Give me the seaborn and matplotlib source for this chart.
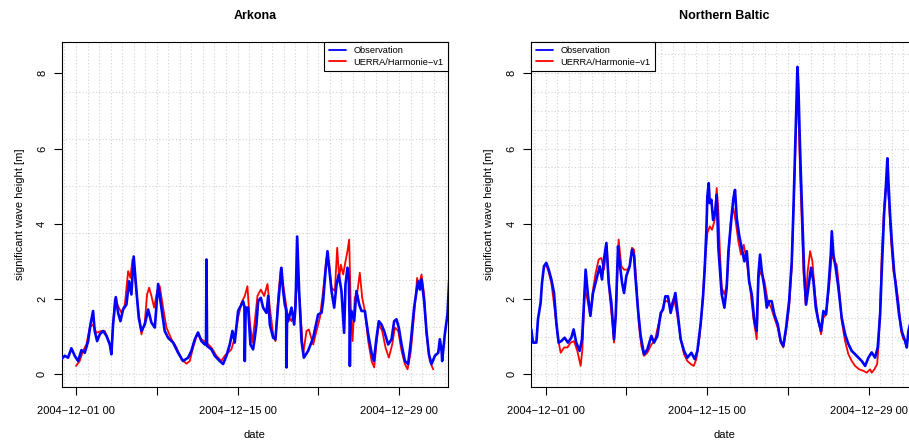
import matplotlib
matplotlib.use("Agg")
import matplotlib.pyplot as plt
from matplotlib.lines import Line2D
import numpy as np
import pandas as pd
import seaborn as sns

# ---------------- data (days since 2004-12-01 00, significant wave height [m]) -------------
START = pd.Timestamp("2004-12-01 00:00")

arkona_obs_day = [-1.3, -1.27, -0.98, -0.69, -0.4, -0.11, 0.18, 0.47, 0.76, 1.05, 1.25, 1.48, 1.62, 1.83,
                  2.06, 2.35, 2.64, 2.93, 3.07, 3.21, 3.45, 3.65, 3.85, 4.08, 4.37, 4.6, 4.8, 5.0, 5.24,
                  5.44, 5.67, 5.96, 6.25, 6.54, 6.83, 7.12, 7.4, 7.69, 7.98, 8.42, 8.85, 9.28, 9.72, 10.0,
                  10.3, 10.58, 10.87, 11.16, 11.27, 11.31, 11.36, 11.74, 12.03, 12.46, 12.75, 13.04, 13.33,
                  13.56, 13.76, 14.05, 14.34, 14.48, 14.6, 14.63, 14.71, 14.92, 15.12, 15.35, 15.5, 15.64,
                  15.79, 16.02, 16.22, 16.51, 16.66, 16.8, 17.09, 17.29, 17.52, 17.81, 17.96, 18.1, 18.22,
                  18.25, 18.3, 18.39, 18.68, 18.91, 19.03, 19.17, 19.34, 19.55, 19.75, 20.12, 20.56, 20.99,
                  21.28, 21.42, 21.63, 21.8, 21.92, 22.15, 22.38, 22.58, 22.78, 23.01, 23.24, 23.36, 23.53,
                  23.65, 23.71, 23.74, 23.79, 23.88, 24.11, 24.31, 24.55, 24.75, 25.04, 25.33, 25.62, 25.82,
                  26.05, 26.25, 26.48, 26.71, 27.06, 27.35, 27.58, 27.78, 27.98, 28.22, 28.51, 28.79, 29.03,
                  29.31, 29.52, 29.66, 29.81, 29.95, 30.18, 30.38, 30.59, 30.82, 31.11, 31.4, 31.54, 31.7,
                  31.74, 31.97, 32.2, 32.35]
arkona_obs_hs = [0.42, 0.40, 0.49, 0.44, 0.69, 0.49, 0.35, 0.64, 0.57, 0.88, 1.32, 1.68, 1.15, 0.88,
                 1.06, 1.15, 1.02, 0.79, 0.53, 1.32, 2.05, 1.63, 1.41, 1.72, 1.85, 2.47, 2.12, 3.13, 2.21,
                 1.5, 1.15, 1.32, 1.72, 1.37, 1.24, 2.40, 1.77, 1.15, 0.97, 0.84, 0.57, 0.35, 0.44, 0.62,
                 0.93, 1.11, 0.88, 0.79, 0.80, 3.05, 0.75, 0.66, 0.49, 0.35, 0.27, 0.49, 0.79,
                 1.15, 0.84, 1.68, 1.85, 1.94, 1.80, 0.35, 1.77, 1.77, 0.79, 0.66, 0.97, 1.32,
                 1.94, 2.03, 1.77, 1.63, 2.08, 1.32, 0.97, 0.93, 1.85, 2.83, 2.21, 1.85, 1.70,
                 0.18, 1.60, 1.41, 1.77, 1.32, 1.81, 3.66, 2.21, 0.88, 0.44, 0.62, 0.97, 1.59,
                 1.63, 1.94, 2.74, 3.27, 2.91, 2.21, 1.77, 2.38, 2.65, 2.21, 1.10, 2.38, 2.83,
                 2.56, 1.50, 0.22, 1.50, 1.68, 1.41, 2.21, 1.85, 1.68, 1.68, 1.06, 0.57, 0.35,
                 0.97, 1.41, 1.32, 1.15, 0.79, 0.93, 1.41, 1.46, 1.24, 0.79, 0.35, 0.27, 0.88,
                 1.77, 2.21, 2.47, 2.25, 2.52, 1.94, 1.15, 0.53, 0.27, 0.49, 0.57, 0.93, 0.60,
                 0.35, 1.06, 1.59, 2.50]

arkona_mod_day = [0.0, 0.32, 0.61, 0.9, 1.19, 1.48, 1.77, 2.2, 2.49, 2.78, 3.07, 3.36, 3.65, 3.94, 4.23,
                  4.52, 4.72, 4.89, 5.09, 5.38, 5.67, 5.96, 6.16, 6.34, 6.54, 6.77, 7.03, 7.26, 7.55, 7.84,
                  8.27, 8.71, 9.14, 9.58, 9.86, 10.15, 10.5, 10.87, 11.31, 11.74, 12.17, 12.6, 12.89, 13.18,
                  13.47, 13.76, 14.05, 14.34, 14.63, 14.86, 15.06, 15.29, 15.5, 15.73, 16.02, 16.31, 16.6,
                  16.8, 17.09, 17.29, 17.52, 17.75, 18.04, 18.33, 18.68, 18.97, 19.12, 19.4, 19.69, 19.98,
                  20.18, 20.56, 20.85, 21.14, 21.42, 21.71, 21.92, 22.15, 22.44, 22.64, 22.81, 22.96, 23.16,
                  23.36, 23.53, 23.68, 23.82, 23.97, 24.17, 24.4, 24.6, 24.81, 25.04, 25.33, 25.62, 25.85,
                  26.05, 26.25, 26.54, 26.83, 27.12, 27.41, 27.64, 27.93, 28.22, 28.51, 28.74, 29.03, 29.31,
                  29.57, 29.72, 29.95, 30.18, 30.38, 30.67, 30.96]
arkona_mod_hs = [0.22, 0.35, 0.62, 0.79, 1.24, 1.32, 1.10, 1.15, 1.15, 0.93, 0.62, 1.99, 1.81, 1.63, 1.85,
                 2.74, 2.56, 3.05, 2.65, 1.77, 1.06, 1.37, 2.12, 2.30, 2.08, 1.77, 2.21, 2.34, 1.77, 1.24,
                 0.93, 0.71, 0.40, 0.28, 0.35, 0.71, 1.06, 0.93, 0.84, 0.71, 0.49, 0.35, 0.49, 0.57,
                 0.66, 0.97, 1.50, 1.90, 2.08, 2.34, 1.41, 0.84, 1.41, 2.08, 2.25, 2.08, 2.40,
                 1.77, 1.06, 0.88, 2.03, 2.83, 2.21, 1.59, 1.41, 1.68, 2.60, 1.94, 0.53, 1.15,
                 1.19, 0.79, 1.15, 1.50, 2.21, 3.09, 3.00, 2.30, 2.21, 3.36, 2.56, 2.91, 2.65,
                 3.00, 3.27, 3.58, 1.77, 0.88, 2.03, 2.21, 2.70, 2.03, 1.68, 0.88, 0.35, 0.18,
                 0.84, 1.32, 1.15, 0.71, 0.44, 0.79, 1.24, 1.15, 0.62, 0.27, 0.13, 0.62, 1.59,
                 2.56, 2.34, 2.65, 2.12, 1.06, 0.35, 0.13]

baltic_obs_day = [-1.3, -1.25, -1.1, -0.81, -0.67, -0.44, -0.32, -0.15, 0.05, 0.26, 0.49, 0.72, 0.92, 1.12,
                  1.35, 1.64, 1.93, 2.22, 2.42, 2.65, 2.94, 3.15, 3.32, 3.46, 3.67, 3.87, 4.1, 4.39, 4.68,
                  4.88, 5.05, 5.26, 5.46, 5.69, 5.92, 6.07, 6.27, 6.41, 6.62, 6.79, 6.99, 7.28, 7.48, 7.66,
                  7.77, 8.0, 8.23, 8.52, 8.81, 9.16, 9.39, 9.68, 9.97, 10.17, 10.37, 10.6, 10.83, 11.04,
                  11.24, 11.47, 11.7, 11.99, 12.28, 12.63, 12.92, 13.15, 13.44, 13.64, 13.78, 13.93, 14.01,
                  14.13, 14.22, 14.36, 14.51, 14.71, 14.82, 14.97, 15.11, 15.26, 15.49, 15.69, 15.84, 16.07,
                  16.27, 16.41, 16.56, 16.76, 16.99, 17.22, 17.43, 17.63, 17.86, 18.09, 18.29, 18.44, 18.58,
                  18.73, 18.96, 19.16, 19.36, 19.59, 19.82, 20.11, 20.37, 20.6, 20.84, 21.1, 21.33, 21.47,
                  21.62, 21.73, 21.82, 21.91, 22.0, 22.11, 22.26, 22.4, 22.57, 22.77, 23.0, 23.21, 23.41,
                  23.64, 23.87, 24.07, 24.3, 24.51, 24.71, 24.8, 24.94, 25.14, 25.37, 25.66, 25.95, 26.24,
                  26.53, 26.82, 27.11, 27.4, 27.69, 27.97, 28.26, 28.55, 28.78, 28.99, 29.13, 29.33, 29.48,
                  29.62, 29.71, 29.85, 30.0, 30.2, 30.43, 30.63, 30.86, 31.15, 31.3, 31.44, 31.6]
baltic_obs_hs = [1.20, 1.19, 0.84, 0.84, 1.46, 1.90, 2.43, 2.87, 2.96, 2.78, 2.52, 2.16, 1.37, 0.84,
                 0.88, 0.97, 0.84, 0.97, 1.19, 0.84, 0.62, 0.93, 1.90, 2.78, 2.07, 1.55, 2.16, 2.52, 2.87,
                 2.52, 3.05, 3.49, 2.43, 1.90, 0.93, 1.55, 3.40, 2.96, 2.43, 2.16, 2.61, 2.87, 3.31, 3.14,
                 2.61, 1.72, 1.02, 0.53, 0.66, 1.02, 0.84, 1.02, 1.63, 1.72, 2.07, 2.07, 1.63, 1.90,
                 2.16, 1.55, 0.93, 0.62, 0.44, 0.57, 0.40, 0.62, 1.37, 2.07, 2.78, 3.84, 4.72,
                 5.08, 4.55, 4.64, 4.10, 4.37, 4.77, 3.36, 2.74, 2.12, 1.77, 2.30, 3.27, 4.06,
                 4.68, 4.90, 4.15, 3.71, 3.36, 3.00, 3.27, 2.47, 2.12, 1.41, 1.15, 2.65, 3.18,
                 2.74, 2.30, 1.77, 1.94, 1.94, 1.59, 1.33, 0.88, 0.75, 1.24, 1.94, 3.00, 4.33,
                 5.92, 7.15, 8.17, 7.59, 6.53, 5.39, 4.06, 2.74, 1.85, 2.30, 2.83, 2.47, 1.77,
                 1.41, 1.15, 1.68, 1.59, 2.30, 3.18, 3.80, 3.18, 2.83, 2.30, 1.50, 1.06, 0.80,
                 0.62, 0.53, 0.44, 0.35, 0.22, 0.44, 0.58, 0.44, 0.71, 1.59, 2.74, 4.24, 4.95,
                 5.74, 5.12, 4.24, 3.53, 2.74, 2.12, 1.59, 1.15, 0.88, 0.71, 1.15, 1.35]

baltic_mod_day = [0.0, 0.2, 0.49, 0.78, 1.07, 1.3, 1.59, 1.88, 2.16, 2.45, 2.74, 3.03, 3.18, 3.38, 3.61, 3.87,
                  4.1, 4.33, 4.59, 4.82, 5.05, 5.29, 5.55, 5.75, 5.92, 6.12, 6.32, 6.56, 6.79, 7.08, 7.28,
                  7.48, 7.66, 7.86, 8.06, 8.29, 8.52, 8.81, 9.16, 9.45, 9.74, 10.03, 10.31, 10.6, 10.83,
                  11.12, 11.41, 11.7, 11.99, 12.28, 12.57, 12.83, 13.06, 13.35, 13.55, 13.78, 14.01, 14.22,
                  14.42, 14.65, 14.82, 14.97, 15.11, 15.26, 15.49, 15.69, 15.89, 16.07, 16.27, 16.47, 16.7,
                  16.93, 17.17, 17.43, 17.72, 18.0, 18.29, 18.44, 18.67, 18.96, 19.25, 19.54, 19.82, 20.11,
                  20.37, 20.6, 20.84, 21.1, 21.33, 21.5, 21.67, 21.79, 21.91, 22.05, 22.2, 22.34, 22.54,
                  22.71, 22.92, 23.12, 23.35, 23.64, 23.87, 24.07, 24.3, 24.56, 24.8, 25.03, 25.23, 25.43,
                  25.66, 25.95, 26.24, 26.53, 26.82, 27.17, 27.54, 27.83, 28.12, 28.26, 28.49, 28.73, 28.84,
                  28.99, 29.13, 29.33, 29.48, 29.62, 29.77, 29.94, 30.14, 30.34, 30.57, 30.8, 31.0]
baltic_mod_hs = [2.90, 2.78, 2.43, 1.72, 0.93, 0.57, 0.71, 0.71, 0.84, 0.88, 0.62, 0.22, 0.66, 2.25, 1.99, 1.55,
                 2.25, 2.69, 3.05, 3.09, 2.78, 3.40, 2.07, 1.46, 0.84, 1.90, 3.58, 2.87, 2.78, 2.78, 2.87,
                 3.36, 3.31, 2.43, 1.37, 0.75, 0.49, 0.57, 0.79, 0.88, 1.28, 1.63, 1.94, 1.94, 1.81,
                 2.03, 1.55, 0.93, 0.53, 0.35, 0.27, 0.22, 0.40, 1.02, 1.72, 2.87, 3.75, 3.93,
                 3.84, 4.10, 4.95, 4.33, 3.18, 2.30, 2.12, 2.38, 3.36, 4.15, 4.41, 4.06, 3.53,
                 3.18, 3.44, 3.00, 2.30, 1.50, 0.93, 2.56, 2.74, 2.47, 1.94, 1.77, 1.50, 1.24,
                 0.84, 0.71, 1.15, 1.77, 2.83, 4.50, 6.27, 7.33, 6.89, 5.39, 4.06, 2.74, 1.85,
                 2.74, 3.27, 3.00, 2.12, 1.41, 1.06, 1.50, 1.59, 2.30, 3.18, 3.00, 2.91, 2.30,
                 1.41, 0.88, 0.53, 0.35, 0.22, 0.13, 0.09, 0.04, 0.13, 0.04, 0.13, 0.27, 0.71,
                 1.77, 3.18, 4.41, 4.95, 5.04, 4.50, 3.53, 2.74, 2.47, 1.94, 1.15, 0.93]

panel_titles = ["Arkona", "Northern Baltic"]
series_labels = ["Observation", "UERRA/Harmonie\u2212v1"]
x_tick_days = [0, 7, 14, 21, 28]
x_tick_labels = ["2004\u221212\u221201 00", "", "2004\u221212\u221215 00", "", "2004\u221212\u221229 00"]
y_ticks = [0, 2, 4, 6, 8]
y_tick_labels = ["0", "2", "4", "6", "8"]
x_label = "date"
y_label = "significant wave height [m]"

# ---------------- style ----------------
sns.set_theme(style="ticks")
plt.rcParams["font.family"] = ["Liberation Sans", "DejaVu Sans"]
plt.rcParams["axes.edgecolor"] = "black"
plt.rcParams["axes.linewidth"] = 0.8
plt.rcParams["xtick.color"] = "black"
plt.rcParams["ytick.color"] = "black"
plt.rcParams["text.color"] = "black"
plt.rcParams["axes.labelcolor"] = "black"


def to_time(days):
    return START + pd.to_timedelta(np.asarray(days, dtype=float), unit="D")


W, H = 909, 442
fig = plt.figure(figsize=(W / 100, H / 100), dpi=100)
px_per_day = 11.536
xlim_days = (-1.24, 32.24)
ax_w = (xlim_days[1] - xlim_days[0]) * px_per_day
top_px, bot_px = 41.7, 387.0
lefts_px = [61.7, 531.4]

datasets = [
    (arkona_obs_day, arkona_obs_hs, arkona_mod_day, arkona_mod_hs, "upper right", 1.25),
    (baltic_obs_day, baltic_obs_hs, baltic_mod_day, baltic_mod_hs, "upper left", 0.5),
]

for i, (od, oh, md, mh, legloc, ystep) in enumerate(datasets):
    ax = fig.add_axes([lefts_px[i] / W, (H - bot_px) / H, ax_w / W, (bot_px - top_px) / H])
    ax.set_facecolor("white")
    # grid (dotted light gray)
    for d in range(-1, 33):
        ax.axvline(to_time([d])[0], color="#d3d3d3", lw=0.8, ls=(0, (1, 2)), zorder=0)
    for yv in np.arange(0, 8.6, ystep):
        ax.axhline(yv, color="#d3d3d3", lw=0.8, ls=(0, (1, 2)), zorder=0)

    sns.lineplot(x=to_time(md), y=mh, ax=ax, color="#ff0000", lw=1.3,
                 estimator=None, sort=False, zorder=3)
    sns.lineplot(x=to_time(od), y=oh, ax=ax, color="#0000ff", lw=1.9,
                 estimator=None, sort=False, zorder=4)

    ax.set_xlim(to_time([xlim_days[0]])[0], to_time([xlim_days[1]])[0])
    ax.set_ylim(-0.34, 8.84)
    ax.set_xticks(to_time(x_tick_days))
    ax.set_xticklabels(x_tick_labels)
    ax.set_yticks(y_ticks)
    ax.set_yticklabels(y_tick_labels, rotation=90, va="center")
    ax.tick_params(axis="both", direction="out", length=5.5, width=0.8, labelsize=8, pad=5)
    ax.tick_params(axis="x", pad=8)
    ax.set_xlabel(x_label, fontsize=8, labelpad=10)
    ax.set_ylabel(y_label, fontsize=8, labelpad=9)
    ax.set_title(panel_titles[i], fontsize=9, fontweight="bold", pad=16.5)
    for sp in ax.spines.values():
        sp.set_visible(True)
        sp.set_color("black")
        sp.set_linewidth(0.8)

    handles = [Line2D([], [], color="#0000ff", lw=1.3), Line2D([], [], color="#ff0000", lw=1.3)]
    leg = ax.legend(handles, series_labels, loc=legloc, fontsize=6.7, frameon=True, fancybox=False,
                    edgecolor="black", framealpha=1, borderaxespad=0, handlelength=1.8,
                    handletextpad=0.8, labelspacing=0.25, borderpad=0.5)
    leg.get_frame().set_linewidth(0.8)
    leg.set_zorder(10)

fig.savefig("out.png", dpi=100)
